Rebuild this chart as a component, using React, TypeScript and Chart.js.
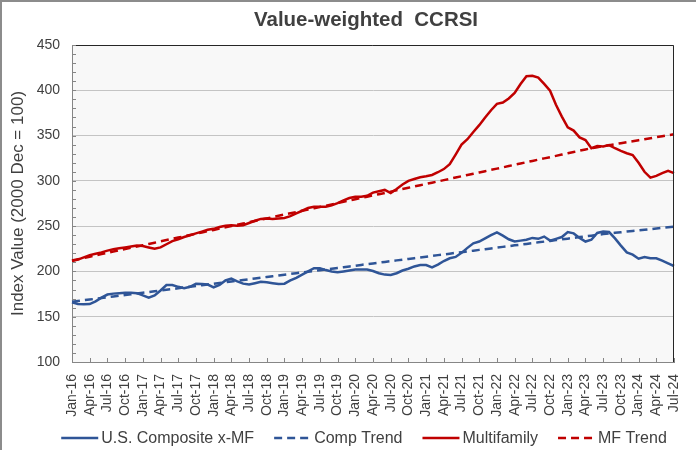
import React, { useEffect, useRef } from 'react';
import { Chart, registerables } from 'chart.js';

Chart.register(...registerables);

// ---- Data ----
const monthNames = ['Jan', 'Feb', 'Mar', 'Apr', 'May', 'Jun', 'Jul', 'Aug', 'Sep', 'Oct', 'Nov', 'Dec'];
const years = ['16', '17', '18', '19', '20', '21', '22', '23', '24'];
const lastYearMonths = 7; // data ends Jul-24

const categories: string[] = [];
years.forEach((y, yi) => {
  const n = yi === years.length - 1 ? lastYearMonths : 12;
  for (let m = 0; m < n; m++) categories.push(`${monthNames[m]}-${y}`);
});

const compositeXMF = [
  166, 164, 163.8, 164, 167, 171, 174.5, 175.5, 176, 176.5, 176.5, 176,
  173.5, 171, 173.5, 179, 185, 185, 183, 181.5, 183, 186.5, 186, 185.5,
  182.5, 185, 190, 192, 189, 186.5, 185.5, 187, 188.5, 188, 187, 186,
  186.5, 190, 193, 196.5, 200, 203.5, 203.5, 201.5, 200, 199, 200, 201,
  202, 202, 202, 200.5, 198, 196.5, 196, 198, 201, 203, 205.5, 207,
  207, 204.5, 207.5, 211.5, 214.5, 216, 220.5, 226, 231, 233, 236.5, 240,
  243, 239.5, 235.5, 233, 234, 235, 237, 236, 238.5, 234, 236, 238,
  243.5, 242, 237, 233, 235, 242.5, 244, 243.5, 236.5, 228.5, 221, 218.5,
  214, 216, 214.5, 214.5, 212, 209, 206,
];

const compTrend = [
  166.5, 167.3, 168.2, 169.0, 169.8, 170.7, 171.5, 172.3, 173.1, 174.0, 174.8, 175.6,
  176.5, 177.3, 178.1, 179.0, 179.8, 180.6, 181.4, 182.3, 183.1, 183.9, 184.8, 185.6,
  186.4, 187.3, 188.1, 188.9, 189.7, 190.6, 191.4, 192.2, 193.1, 193.9, 194.7, 195.6,
  196.4, 197.2, 198.0, 198.9, 199.7, 200.5, 201.4, 202.2, 203.0, 203.9, 204.7, 205.5,
  206.3, 207.2, 208.0, 208.8, 209.7, 210.5, 211.3, 212.2, 213.0, 213.8, 214.6, 215.5,
  216.3, 217.1, 218.0, 218.8, 219.6, 220.5, 221.3, 222.1, 222.9, 223.8, 224.6, 225.4,
  226.3, 227.1, 227.9, 228.8, 229.6, 230.4, 231.2, 232.1, 232.9, 233.7, 234.6, 235.4,
  236.2, 237.1, 237.9, 238.7, 239.5, 240.4, 241.2, 241.9, 242.6, 243.3, 244.0, 244.7,
  245.4, 246.0, 246.7, 247.4, 248.1, 248.8, 249.5,
];

const multifamily = [
  211.5, 213, 215.5, 218, 219.5, 221, 223, 224.5, 225.5, 226.5, 227.5, 228.5,
  228, 226.5, 225, 226.5, 230, 233.5, 235.5, 238, 240, 242, 244, 246,
  247, 249, 250.5, 251, 250.5, 251, 253.5, 256, 258, 258.5, 258, 258.5,
  259, 261, 264, 267, 270, 271.5, 271.5, 271.5, 273, 275.5, 278.5, 281,
  282.5, 282.5, 283.5, 287, 288.5, 290, 286.5, 291, 296, 300, 302, 304,
  305, 306.5, 309.5, 313, 318.5, 329, 340, 346, 354, 361.5, 370, 378,
  385, 386.5, 391, 397, 407, 415.5, 416, 414, 407, 399.5, 384, 371,
  359, 355.5, 348, 345, 336, 338.5, 338, 339.5, 336, 333, 330.5, 328.5,
  320, 310, 303.5, 305.5, 308.5, 311, 308.5,
];

const mfTrend = [
  212.0, 213.4, 214.8, 216.2, 217.6, 219.1, 220.5, 221.9, 223.3, 224.7, 226.1, 227.5,
  228.9, 230.3, 231.7, 233.2, 234.6, 236.0, 237.4, 238.8, 240.2, 241.6, 243.0, 244.4,
  245.8, 247.3, 248.7, 250.1, 251.5, 252.9, 254.3, 255.7, 257.1, 258.5, 259.9, 261.4,
  262.8, 264.2, 265.6, 267.0, 268.4, 269.8, 271.2, 272.6, 274.0, 275.5, 276.9, 278.3,
  279.7, 281.1, 282.5, 283.9, 285.3, 286.7, 288.1, 289.6, 291.0, 292.4, 293.8, 295.2,
  296.6, 298.0, 299.4, 300.8, 302.2, 303.7, 305.1, 306.5, 307.9, 309.3, 310.7, 312.1,
  313.5, 314.9, 316.3, 317.8, 319.2, 320.6, 322.0, 323.4, 324.8, 326.2, 327.6, 329.0,
  330.4, 331.9, 333.3, 334.7, 336.1, 337.2, 338.3, 339.4, 340.5, 341.6, 342.7, 343.8,
  344.9, 346.0, 347.1, 348.2, 349.3, 350.4, 351.5,
];

const yMin = 100;
const yMax = 450;
const yStep = 50;
const yMinorStep = 10;
const xLabelEvery = 3;

const seriesLabels = ['U.S. Composite x-MF', 'Comp Trend', 'Multifamily', 'MF Trend'];
const chartTitle = 'Value-weighted  CCRSI';
const yTitle = 'Index Value (2000 Dec = 100)';

// ---- Styles ----
const FONT = "'Liberation Sans', Arial, sans-serif";
const TEXT = '#404040';
const BLUE = '#2f5597';
const RED = '#c00000';
const AXIS = '#868686';
const DASH = [8, 5];

const framePlugin = {
  id: 'frame',
  beforeDraw(chart: any) {
    const { ctx, chartArea: a, width, height } = chart;
    ctx.save();
    ctx.fillStyle = '#ffffff';
    ctx.fillRect(0, 0, width, height);
    ctx.fillStyle = '#f8f8f8';
    ctx.fillRect(a.left, a.top, a.right - a.left, a.bottom - a.top);
    // outer chart border
    ctx.strokeStyle = '#8c8c8c';
    ctx.lineWidth = 2;
    ctx.beginPath();
    ctx.moveTo(1, height);
    ctx.lineTo(1, 1);
    ctx.lineTo(width, 1);
    ctx.stroke();
    ctx.restore();
  },
  afterDraw(chart: any) {
    const { ctx, chartArea: a } = chart;
    const xs = chart.scales.x;
    const ys = chart.scales.y;
    ctx.save();
    // top & right frame
    ctx.strokeStyle = '#262626';
    ctx.lineWidth = 1;
    ctx.beginPath();
    ctx.moveTo(a.left, a.top + 0.5);
    ctx.lineTo(a.right - 0.5, a.top + 0.5);
    ctx.lineTo(a.right - 0.5, a.bottom);
    ctx.stroke();
    // inner tick marks
    ctx.strokeStyle = AXIS;
    ctx.beginPath();
    for (let v = ys.min; v <= ys.max; v += yMinorStep) {
      const py = Math.round(ys.getPixelForValue(v)) + 0.5;
      ctx.moveTo(a.left, py);
      ctx.lineTo(a.left + 4, py);
    }
    for (let i = 0; i < categories.length; i += xLabelEvery) {
      const px = Math.round(xs.getPixelForValue(i)) + 0.5;
      ctx.moveTo(px, a.bottom);
      ctx.lineTo(px, a.bottom - 4);
    }
    ctx.stroke();

    // title (slightly condensed bold)
    ctx.fillStyle = TEXT;
    ctx.font = `bold 21px ${FONT}`;
    ctx.textAlign = 'center';
    ctx.textBaseline = 'middle';
    const tw = ctx.measureText(chartTitle).width;
    const sx = Math.min(1, 224 / tw);
    ctx.save();
    ctx.translate(366, 20);
    ctx.scale(sx, 1);
    ctx.fillText(chartTitle, 0, 0);
    ctx.restore();

    // legend
    const ds = chart.data.datasets;
    ctx.font = `16px ${FONT}`;
    const sample = 37;
    const gapText = 3;
    const gapItem = 20;
    const widths = ds.map((d: any) => sample + gapText + ctx.measureText(d.label).width);
    const total = widths.reduce((s: number, w: number) => s + w, 0) + gapItem * (ds.length - 1);
    let x = 364 - total / 2;
    const ly = 438;
    ds.forEach((d: any, i: number) => {
      ctx.strokeStyle = d.borderColor;
      ctx.lineWidth = 2.5;
      ctx.setLineDash(d.borderDash || []);
      ctx.beginPath();
      ctx.moveTo(x, ly);
      ctx.lineTo(x + sample, ly);
      ctx.stroke();
      ctx.setLineDash([]);
      ctx.fillStyle = TEXT;
      ctx.textAlign = 'left';
      ctx.textBaseline = 'middle';
      ctx.fillText(d.label, x + sample + gapText, ly + 1);
      x += widths[i] + gapItem;
    });
    ctx.restore();
  },
};

export default function App() {
  const ref = useRef<HTMLCanvasElement | null>(null);

  useEffect(() => {
    document.body.style.margin = '0';
    if (!ref.current) return;
    const mk = (label: string, data: number[], color: string, dash: number[]) => ({
      label,
      data,
      borderColor: color,
      backgroundColor: color,
      borderWidth: 2.5,
      borderDash: dash,
      pointRadius: 0,
      tension: 0,
      fill: false,
    });
    const chart = new Chart(ref.current, {
      type: 'line',
      data: {
        labels: categories,
        datasets: [
          mk(seriesLabels[0], compositeXMF, BLUE, []),
          mk(seriesLabels[1], compTrend, BLUE, DASH),
          mk(seriesLabels[2], multifamily, RED, []),
          mk(seriesLabels[3], mfTrend, RED, DASH),
        ],
      },
      options: {
        responsive: false,
        animation: false,
        events: [],
        layout: { padding: { top: 45, right: 22, left: 0, bottom: 0 } },
        plugins: {
          legend: { display: false },
          title: { display: false },
          tooltip: { enabled: false },
        },
        scales: {
          x: {
            type: 'category',
            offset: false,
            grid: { display: false },
            border: { display: true, color: AXIS, width: 1 },
            ticks: {
              autoSkip: false,
              maxRotation: 90,
              minRotation: 90,
              padding: 4,
              color: TEXT,
              font: { family: FONT, size: 14 },
              callback: function (this: any, value: any, index: number) {
                return index % xLabelEvery === 0 ? this.getLabelForValue(value) : null;
              },
            },
            afterFit: (s: any) => {
              s.height = 88;
            },
          },
          y: {
            min: yMin,
            max: yMax,
            ticks: {
              stepSize: yStep,
              padding: 12,
              color: TEXT,
              font: { family: FONT, size: 14 },
            },
            grid: { color: '#c4c4c4', lineWidth: 1, drawTicks: false },
            border: { display: true, color: AXIS, width: 1 },
            title: {
              display: true,
              text: yTitle,
              color: TEXT,
              font: { family: FONT, size: 17 },
              padding: { top: 8, bottom: 0 },
            },
            afterFit: (s: any) => {
              s.width = 72;
            },
          },
        },
      } as any,
      plugins: [framePlugin],
    });
    return () => chart.destroy();
  }, []);

  return (
    <div style={{ width: 696, height: 450 }}>
      <canvas ref={ref} width={696} height={450} style={{ display: 'block', width: 696, height: 450 }} />
    </div>
  );
}
